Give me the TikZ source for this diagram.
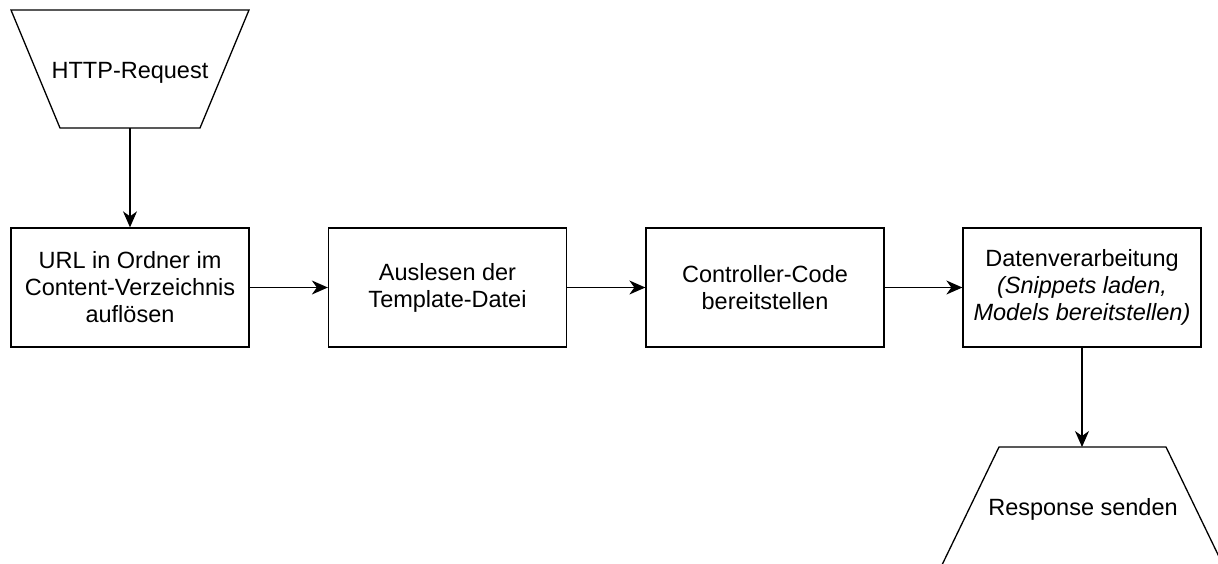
\documentclass[tikz,border=0pt]{standalone}
\usepackage{fontspec}
\setmainfont{Liberation Sans}
\usetikzlibrary{arrows.meta}
\begin{document}
\begin{tikzpicture}[x=1pt,y=-1pt,
  line width=1.3pt,
  every node/.style={font=\fontsize{23.5}{27}\selectfont, align=center, inner sep=0pt},
  stepbox/.style={draw, rectangle, minimum width=238pt, minimum height=119pt},
  flow/.style={-{Stealth[length=16pt,width=14pt,inset=5pt]}},
  ioshape/.style={draw, line join=miter}
]
\clip (0,0) rectangle (1218,563);
\fill[white] (0,0) rectangle (1218,563);

% input trapezoid
\draw[ioshape] (11,10) -- (249,10) -- (200,128) -- (60,128) -- cycle;
\node[anchor=base] (req) at (130,78) {HTTP-Request};
\coordinate (reqbot) at (130,128);

% processing steps
\node[stepbox] (s1) at (130,287.5) {URL in Ordner im\\Content-Verzeichnis\\auflösen};
\node[stepbox] (s2) at (447.5,287.5) {Auslesen der\\Template-Datei};
\node[stepbox] (s3) at (765,287.5) {Controller-Code\\bereitstellen};
\node[stepbox] (s4) at (1082,287.5) {Datenverarbeitung\\\textit{(Snippets laden,}\\\textit{Models bereitstellen)}};

% output trapezoid
\draw[ioshape] (999,447) -- (1166,447) -- (1224,567) -- (941,567) -- cycle;
\node[anchor=base] (resp) at (1083,515) {Response senden};
\coordinate (resptop) at (1082,447);

% connectors
\draw[flow] (reqbot) -- (s1.north);
\draw[flow] (s1.east) -- (s2.west);
\draw[flow] (s2.east) -- (s3.west);
\draw[flow] (s3.east) -- (s4.west);
\draw[flow] (s4.south) -- (resptop);
\end{tikzpicture}
\end{document}
